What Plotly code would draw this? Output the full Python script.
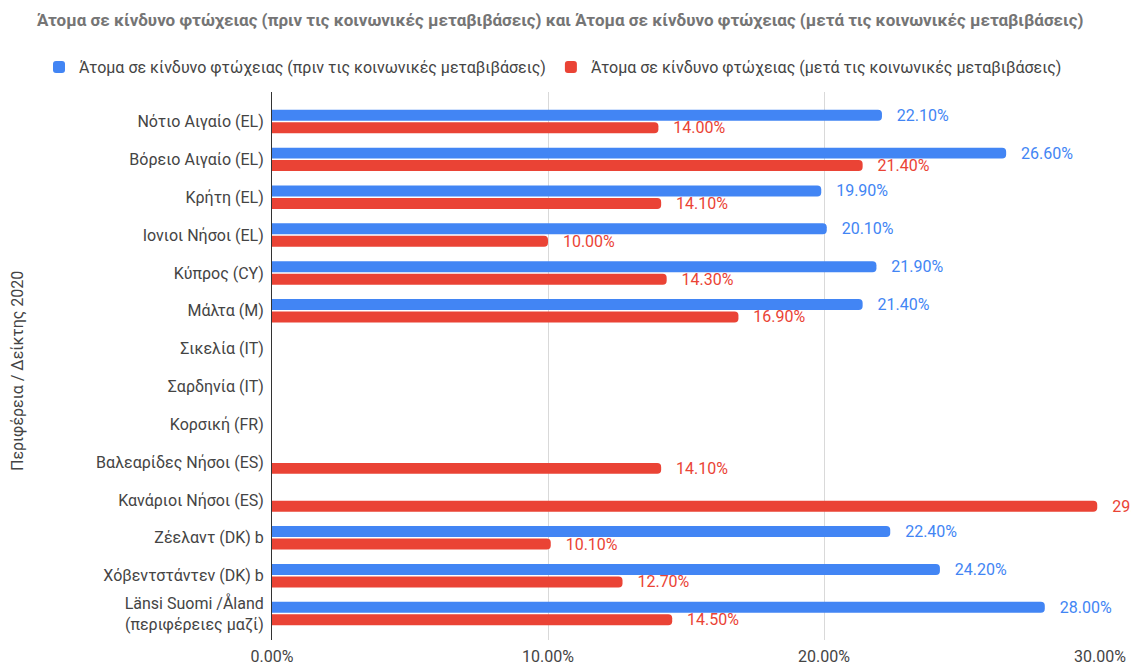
import plotly.graph_objects as go

categories = [
    "Νότιο Αιγαίο (EL)", "Βόρειο Αιγαίο (EL)", "Κρήτη (EL)", "Ιονιοι Νήσοι (EL)",
    "Κύπρος (CY)", "Μάλτα (M)", "Σικελία (IT)", "Σαρδηνία (IT)", "Κορσική (FR)",
    "Βαλεαρίδες Νήσοι (ES)", "Κανάριοι Νήσοι (ES)", "Ζέελαντ (DK) b",
    "Χόβεντστάντεν (DK) b", "Länsi Suomi /Åland<br>(περιφέρειες μαζί)",
]
before = [22.1, 26.6, 19.9, 20.1, 21.9, 21.4, None, None, None, None, None, 22.4, 24.2, 28.0]
after = [14.0, 21.4, 14.1, 10.0, 14.3, 16.9, None, None, None, 14.1, 29.9, 10.1, 12.7, 14.5]

name_before = "Άτομα σε κίνδυνο φτώχειας (πριν τις κοινωνικές μεταβιβάσεις)"
name_after = "Άτομα σε κίνδυνο φτώχειας (μετά τις κοινωνικές μεταβιβάσεις)"
title = name_before + " και " + name_after

BLUE = "#4285F4"
RED = "#EA4335"
FONT = "Roboto, Arial, sans-serif"
PAD = "\u00a0" * 3

W, H = 1139, 665
OFF = 8  # browser body margin
L, R, T, B = 272 - OFF, W - (1100 - OFF), 92 - OFF, H - (640 - OFF)
PW, PH = W - L - R, H - T - B

fig = go.Figure()
for name, vals, col in [(name_before, before, BLUE), (name_after, after, RED)]:
    fig.add_trace(go.Bar(
        y=categories, x=vals, name=name, orientation="h",
        marker=dict(color=col, line=dict(width=0)),
        text=[None if v is None else f"{PAD}{v:.2f}%" for v in vals],
        textposition="outside", cliponaxis=False, constraintext="none",
        textfont=dict(color=col, size=16, family=FONT),
    ))

fig.add_annotation(
    text="Περιφέρεια / Δείκτης 2020", textangle=-90,
    xref="paper", yref="paper",
    x=(17 - OFF - L) / PW, y=(640 - 371) / PH,
    xanchor="center", yanchor="middle", showarrow=False,
    font=dict(size=16, color="#444444", family=FONT),
)

fig.update_layout(
    width=W, height=H,
    margin=dict(l=L, r=R, t=T, b=B, autoexpand=False),
    paper_bgcolor="white", plot_bgcolor="white",
    font=dict(family=FONT, size=16, color="#444444"),
    barmode="group", bargap=0.34, bargroupgap=0.12, barcornerradius=4,
    title=dict(text="<b>" + title + "</b>", xref="container", yref="container",
               x=(37 - OFF) / W, y=1 - (20 - OFF) / H, xanchor="left", yanchor="middle",
               font=dict(size=17, color="#757575", family=FONT)),
    legend=dict(orientation="h", xref="paper", yref="paper",
                x=(39 - OFF - L) / PW, y=1 + (T - (50 - OFF)) / PH,
                xanchor="left", yanchor="top",
                font=dict(size=16, color="#444444", family=FONT),
                itemwidth=30, traceorder="normal"),
    showlegend=True,
    xaxis=dict(range=[0, 30], dtick=10, tickformat=".2f", ticksuffix="%",
               showgrid=True, gridcolor="#d9d9d9", zeroline=False,
               showline=False, ticklabelstandoff=5, automargin=False,
               tickfont=dict(size=16, color="#444444")),
    yaxis=dict(range=[13.7, -0.78], showline=True, linecolor="#333333",
               linewidth=1, ticks="", ticklabelstandoff=4, automargin=False,
               tickfont=dict(size=16, color="#444444")),
)

fig.write_html("out.html")
